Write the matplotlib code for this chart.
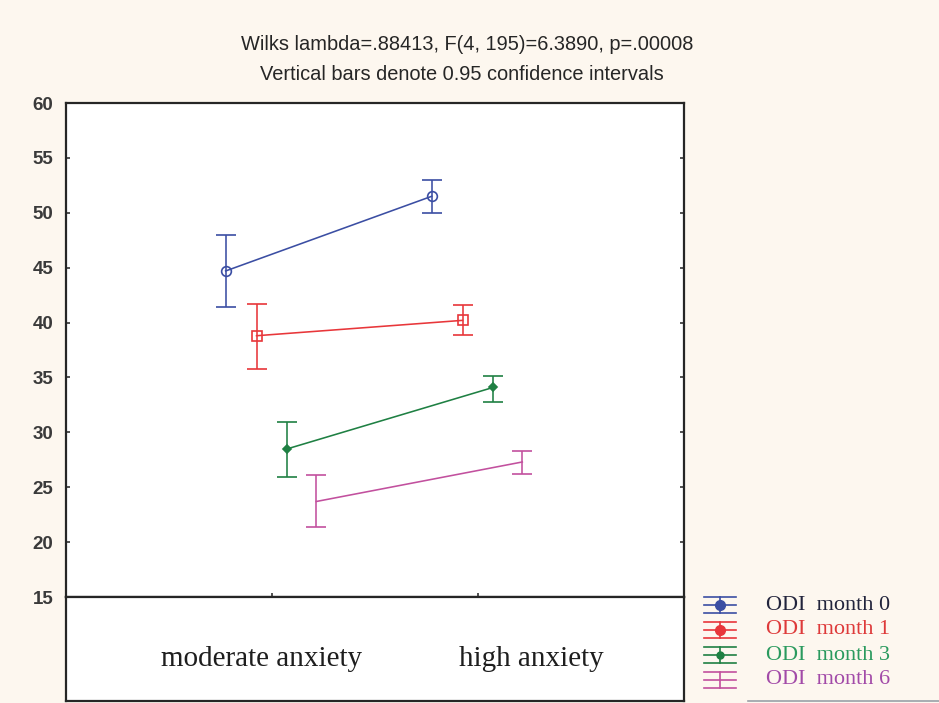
import matplotlib
matplotlib.use("Agg")
import matplotlib.pyplot as plt
from matplotlib.lines import Line2D
import numpy as np

# ---- data -------------------------------------------------------------
groups = ["moderate anxiety", "high anxiety"]
series = ["ODI  month 0", "ODI  month 1", "ODI  month 3", "ODI  month 6"]

means_m0 = [44.7, 51.5]
lower_m0 = [41.4, 50.0]
upper_m0 = [48.0, 53.0]

means_m1 = [38.8, 40.2]
lower_m1 = [35.8, 38.9]
upper_m1 = [41.7, 41.6]

means_m3 = [28.5, 34.1]
lower_m3 = [25.9, 32.8]
upper_m3 = [30.9, 35.1]

means_m6 = [23.7, 27.3]
lower_m6 = [21.4, 26.2]
upper_m6 = [26.1, 28.3]

y_ticks = [15, 20, 25, 30, 35, 40, 45, 50, 55, 60]
title_lines = ["Wilks lambda=.88413, F(4, 195)=6.3890, p=.00008",
               "Vertical bars denote 0.95 confidence intervals"]

# ---- style ------------------------------------------------------------
bg = "#fdf7ef"
colors = ["#3b4ea3", "#e8363a", "#1f8043", "#c2509e"]
text_colors = ["#22243c", "#de3a3a", "#2a9a5e", "#a24aa8"]
markers = ["o", "s", "D", None]
marker_fill = ["none", "none", None, None]
marker_size = [7, 7, 4.5, 0]
offsets = [-0.225, -0.075, 0.075, 0.215]

all_means = [means_m0, means_m1, means_m3, means_m6]
all_lower = [lower_m0, lower_m1, lower_m3, lower_m6]
all_upper = [upper_m0, upper_m1, upper_m3, upper_m6]

W, H = 939, 703
fig = plt.figure(figsize=(W / 100, H / 100), dpi=100, facecolor=bg)

L, R = 66, 684
T, B = 103, 597
ax = fig.add_axes([L / W, 1 - B / H, (R - L) / W, (B - T) / H])
ax.set_facecolor("white")

x = np.arange(len(groups))
for i in range(4):
    m = np.array(all_means[i])
    lo = np.array(all_lower[i])
    hi = np.array(all_upper[i])
    xs = x + offsets[i]
    ax.errorbar(xs, m, yerr=[m - lo, hi - m], color=colors[i], lw=1.15,
                elinewidth=1.15, capsize=7.3, capthick=1.15,
                marker=markers[i] if markers[i] else "", ms=marker_size[i],
                mfc=(marker_fill[i] if marker_fill[i] else colors[i]),
                mec=colors[i], mew=1.2)

ax.set_xlim(-1, 2)
ax.set_ylim(15, 60)
ax.set_yticks(y_ticks)
ax.set_yticklabels([str(t) for t in y_ticks], fontfamily="Liberation Sans",
                   fontweight="bold", fontsize=13.5, color="#3a3a3a")
ax.set_xticks(x)
ax.set_xticklabels([])
ax.tick_params(axis="y", direction="in", length=3, width=1.2, pad=9,
               right=True, color="#333333")
ax.tick_params(axis="x", direction="in", length=3, width=1.2, color="#333333")
for s in ax.spines.values():
    s.set_linewidth(1.6)
    s.set_color("#262626")

# lower box holding the group names
ax2 = fig.add_axes([L / W, 1 - 701 / H, (R - L) / W, (701 - B) / H])
ax2.set_facecolor("white")
ax2.set_xlim(-1, 2)
ax2.set_ylim(0, 1)
ax2.set_xticks([])
ax2.set_yticks([])
for s in ax2.spines.values():
    s.set_linewidth(1.6)
    s.set_color("#262626")
label_x = [-0.052, 1.257]
for gx, g in zip(label_x, groups):
    ax2.text(gx, 0.40, g, ha="center", va="center", fontsize=21,
             fontfamily="Liberation Serif", color="#1e1e1e")

# title lines
fig.text(467 / W, 1 - 44 / H, title_lines[0], ha="center", va="center",
         fontsize=14.4, fontfamily="Liberation Sans", color="#262626")
fig.text(462 / W, 1 - 74 / H, title_lines[1], ha="center", va="center",
         fontsize=14.4, fontfamily="Liberation Sans", color="#262626")

# legend drawn by hand in pixel coordinates
row_y = [605, 630, 655, 680]
for i, (ry, name) in enumerate(zip(row_y, series)):
    cx = 720
    for dy in (-8.3, 0, 8.3):
        fig.add_artist(Line2D([(cx - 16) / W, (cx + 16) / W],
                              [1 - (ry + dy) / H] * 2, color=colors[i], lw=1.2))
    fig.add_artist(Line2D([cx / W, cx / W], [1 - (ry - 8.3) / H, 1 - (ry + 8.3) / H],
                          color=colors[i], lw=1.2))
    if markers[i]:
        fig.add_artist(Line2D([cx / W], [1 - ry / H], marker="o",
                              ms=7 if i != 2 else 5, color=colors[i],
                              mfc=colors[i], mec=colors[i]))
    fig.text(766 / W, 1 - ry / H, name, ha="left", va="center", fontsize=16,
             fontfamily="Liberation Serif", color=text_colors[i])

fig.add_artist(Line2D([748 / W, 1], [1 - 701 / H] * 2, color="#9aa0a8", lw=1.2))

fig.savefig("out.png", dpi=100, facecolor=bg)
